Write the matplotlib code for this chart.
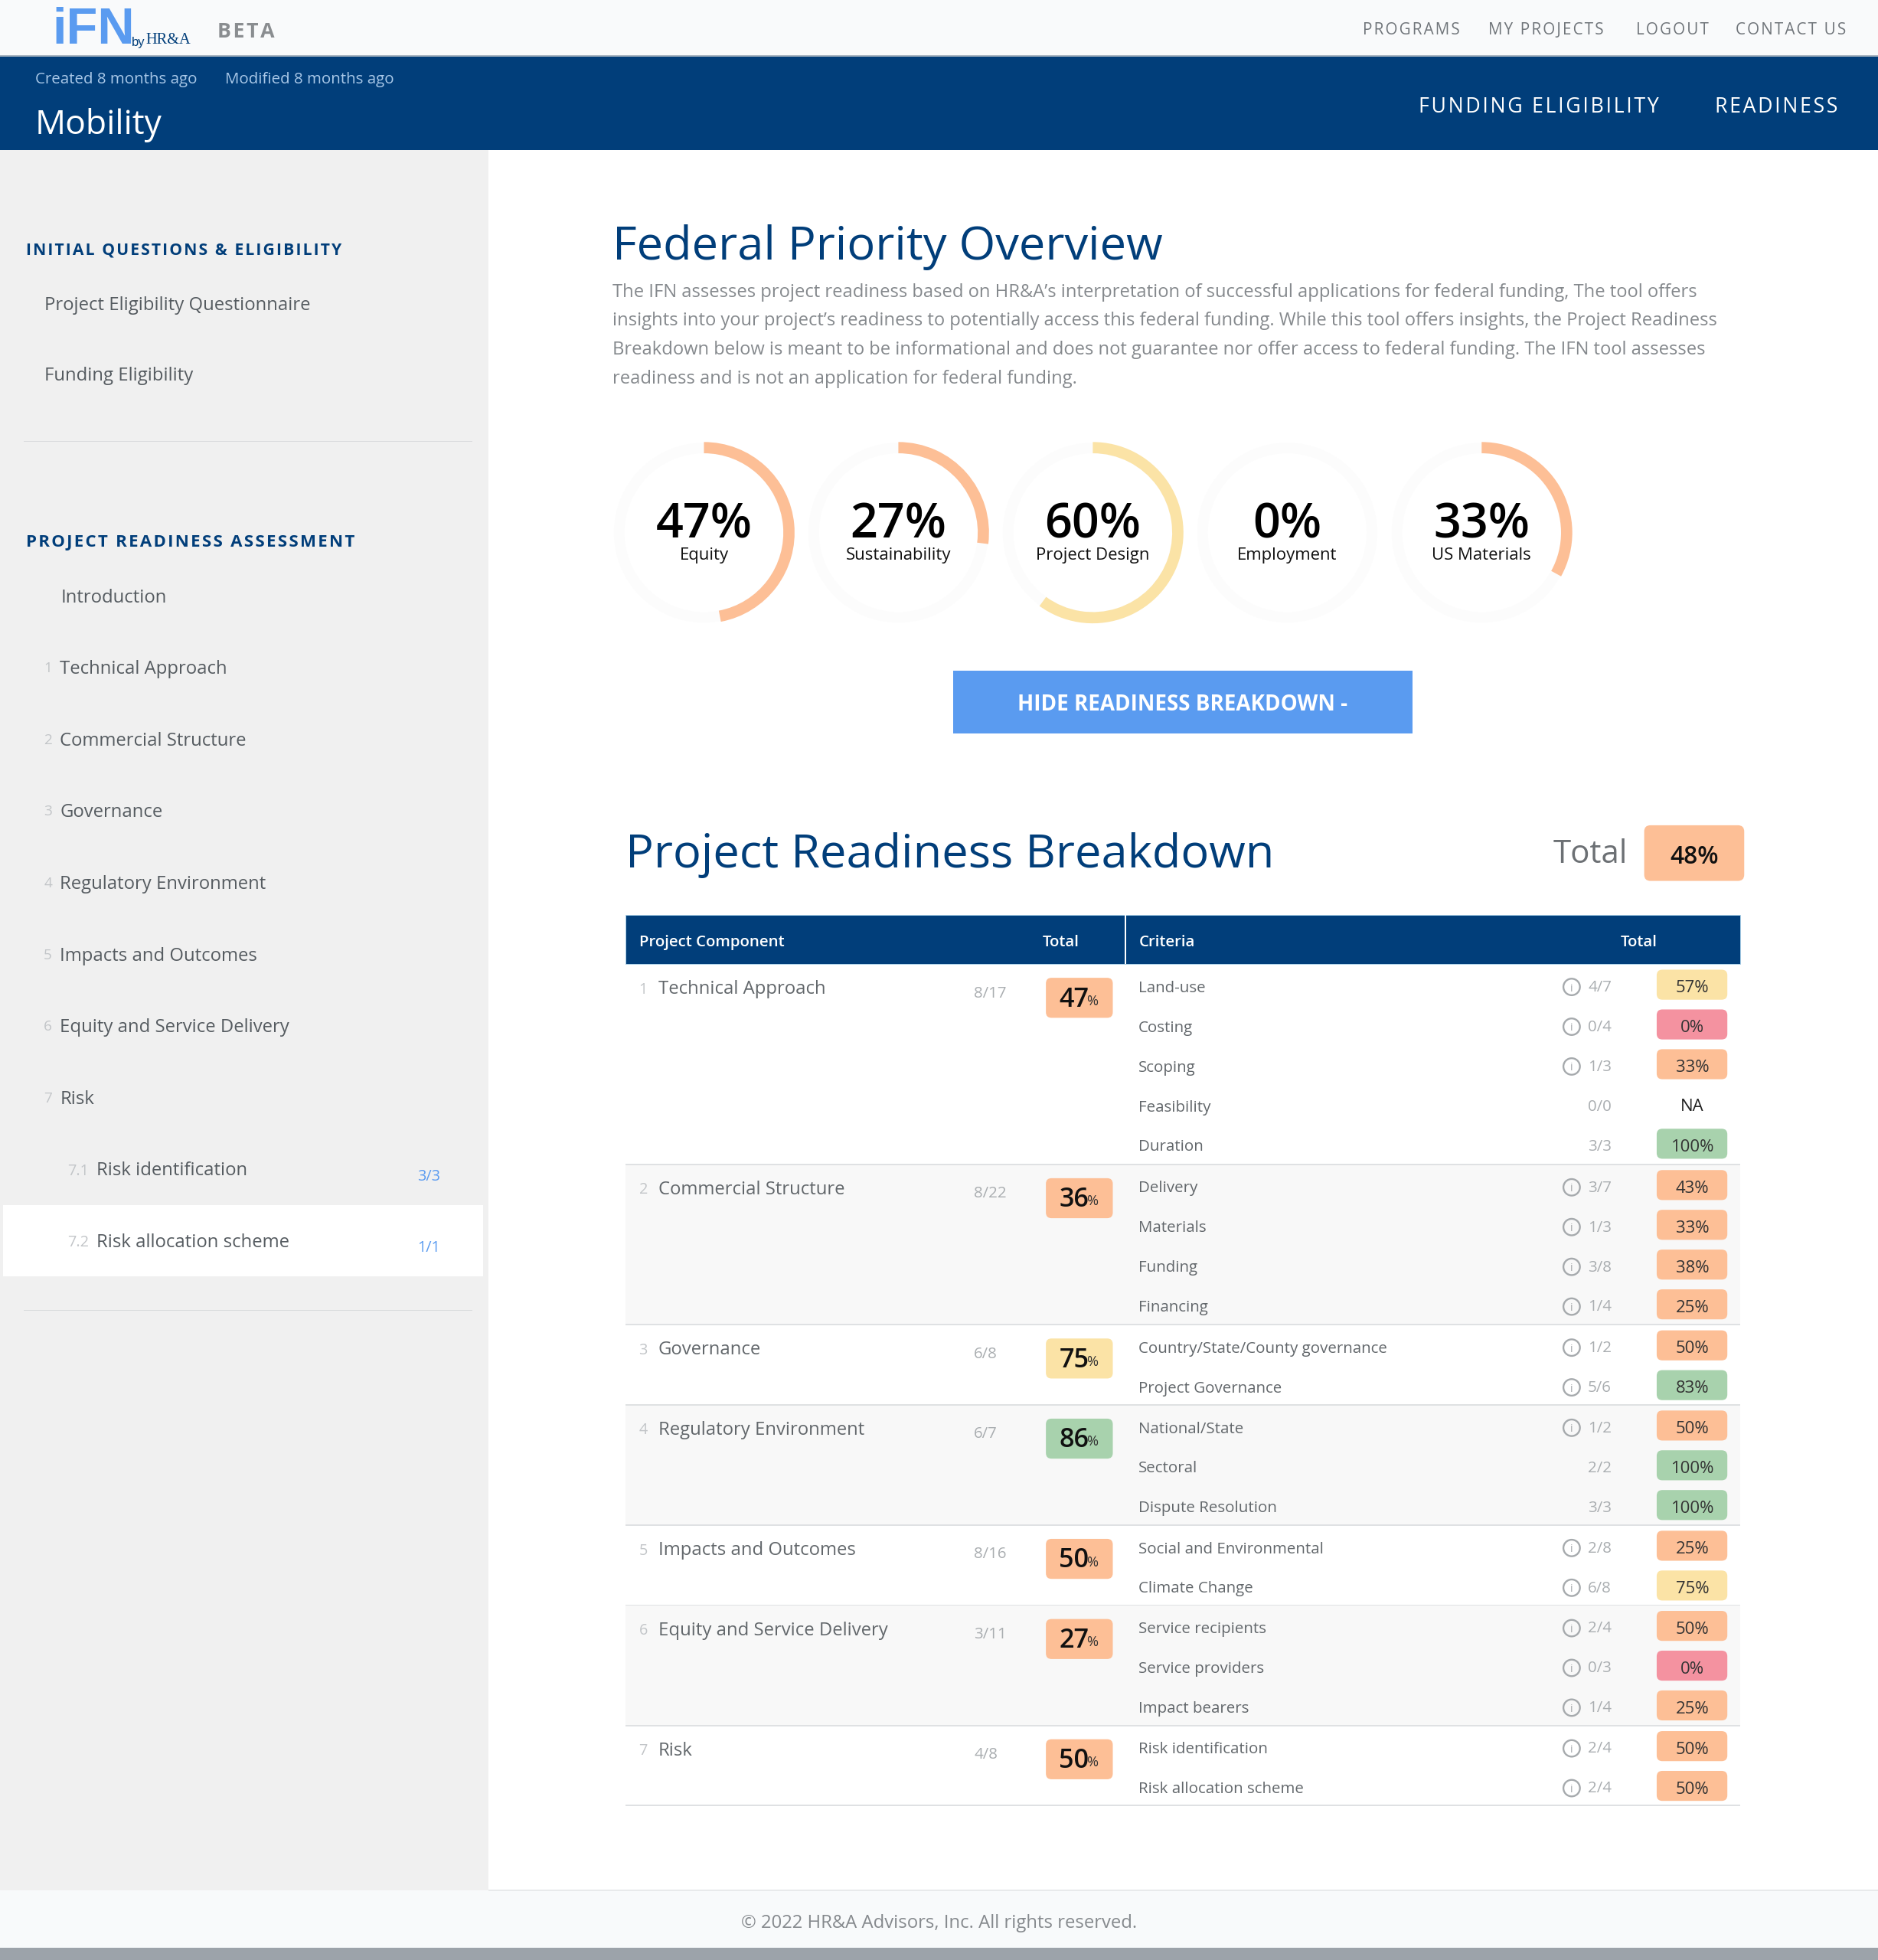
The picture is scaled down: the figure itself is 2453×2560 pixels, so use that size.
import matplotlib
matplotlib.use("Agg")
import matplotlib.pyplot as plt
from matplotlib.patches import Rectangle, Wedge, Circle, FancyBboxPatch

# ---- data ----
nav_links = ["PROGRAMS", "MY PROJECTS", "LOGOUT", "CONTACT US"]
nav_x = [1167.5, 1282.5, 1366.5, 1476.5]
tabs = ["FUNDING ELIGIBILITY", "READINESS"]
tabs_x = [1327, 1470]
gauge_labels = ["Equity", "Sustainability", "Project Design", "Employment", "US Materials"]
gauge_values = [47, 27, 60, 0, 33]
side_top = ["Project Eligibility Questionnaire", "Funding Eligibility"]
side_items = ["Technical Approach", "Commercial Structure", "Governance", "Regulatory Environment",
              "Impacts and Outcomes", "Equity and Service Delivery", "Risk"]
components = ["Technical Approach", "Commercial Structure", "Governance", "Regulatory Environment",
              "Impacts and Outcomes", "Equity and Service Delivery", "Risk"]
comp_scores = ["8/17", "8/22", "6/8", "6/7", "8/16", "3/11", "4/8"]
comp_pct = [47, 36, 75, 86, 50, 27, 50]
criteria = [["Land-use", "Costing", "Scoping", "Feasibility", "Duration"],
            ["Delivery", "Materials", "Funding", "Financing"],
            ["Country/State/County governance", "Project Governance"],
            ["National/State", "Sectoral", "Dispute Resolution"],
            ["Social and Environmental", "Climate Change"],
            ["Service recipients", "Service providers", "Impact bearers"],
            ["Risk identification", "Risk allocation scheme"]]
crit_scores = [["4/7", "0/4", "1/3", "0/0", "3/3"],
               ["3/7", "1/3", "3/8", "1/4"],
               ["1/2", "5/6"],
               ["1/2", "2/2", "3/3"],
               ["2/8", "6/8"],
               ["2/4", "0/3", "1/4"],
               ["2/4", "2/4"]]
crit_pct = [[57, 0, 33, None, 100],
            [43, 33, 38, 25],
            [50, 83],
            [50, 100, 100],
            [25, 75],
            [50, 0, 25],
            [50, 50]]
crit_info = [[1, 1, 1, 0, 0],
             [1, 1, 1, 1],
             [1, 1],
             [1, 0, 0],
             [1, 1],
             [1, 1, 1],
             [1, 1]]
total_pct = 48
intro = ["The IFN assesses project readiness based on HR&A\u2019s interpretation of successful applications for federal funding, The tool offers",
         "insights into your project\u2019s readiness to potentially access this federal funding. While this tool offers insights, the Project Readiness",
         "Breakdown below is meant to be informational and does not guarantee nor offer access to federal funding. The IFN tool assesses",
         "readiness and is not an application for federal funding."]

# ---- style ----
NAVY = "#013e7a"
ORANGE = "#fdbf96"
YELLOW = "#fbe3a6"
RED = "#f492a0"
GREEN = "#a8d2ad"
GREY = "#555b60"
LIGHT = "#a9adb0"
FONT = ["Open Sans", "DejaVu Sans"]
W, H = 1502, 1567.5
K = 2453 / 1502 * 0.72 * 0.973   # css px in this layout -> pt


def band(p):
    if p >= 80:
        return GREEN
    if p >= 55:
        return YELLOW
    if p > 0:
        return ORANGE
    return RED


def track(s):
    """Letter-spacing by hair spaces."""
    return "\u200a".join(s)


fig = plt.figure(figsize=(24.53, 25.60), dpi=100, facecolor="white")
ax = fig.add_axes([0, 0, 1, 1])
ax.set_xlim(0, W)
ax.set_ylim(H, 0)
ax.axis("off")


def T(x, y, s, size, color=GREY, ha="left", weight="normal", family=None, **kw):
    return ax.text(x, y - 1, s, fontsize=size * K, color=color, ha=ha, va="center_baseline",
                   fontweight=weight, family=family or FONT, zorder=kw.pop("zorder", 5), **kw)


def R(x, y, w, h, color, z=1, **kw):
    ax.add_patch(Rectangle((x, y), w, h, facecolor=color, edgecolor="none", zorder=z, **kw))


def badge(x, y, w, h, color, r=4.5):
    ax.add_patch(FancyBboxPatch((x + r, y + r), w - 2 * r, h - 2 * r, boxstyle=f"round,pad={r},rounding_size={r}",
                                facecolor=color, edgecolor="none", zorder=2))


# page frame
R(0, 0, W, 45, "#f9fafb")
R(0, 44, W, 1.2, "#a9b5c1", z=2)
R(0, 45, W, 75, NAVY)
R(0, 120, 390.5, 1392, "#f0f0f0")
R(0, 1512, W, 46.5, "#f8fafb")
R(390.5, 1511, W, 1.2, "#e8eaeb", z=2)
R(0, 1558, W, 9.5, "#9ca3aa", z=2)

# header
T(42, 21, "iFN", 42, "#5a9bf0", weight="bold", family=["Liberation Sans"])
T(105, 34, "by", 10.5, NAVY, family=["Liberation Sans"])
T(116.5, 31.5, "HR&A", 12.8, NAVY, family=["Liberation Serif"])
T(174, 25, track("BETA"), 16.8, "#8a8d90", weight="bold")
for s, x in zip(nav_links, nav_x):
    T(x, 23.5, track(s), 13.0, "#70757a", ha="right")
T(28, 63, "Created 8 months ago", 12.9, "#a9c8e8")
T(180, 63, "Modified 8 months ago", 12.9, "#a9c8e8")
T(28, 97.5, "Mobility", 28, "white")
for s, x in zip(tabs, tabs_x):
    T(x, 84.5, track(s), 16.8, "white", ha="right")

# sidebar
T(21, 199.5, track("INITIAL QUESTIONS & ELIGIBILITY"), 13.3, NAVY, weight="bold")
for i, s in enumerate(side_top):
    T(35.5, 243.5 + i * 56.5, s, 15, GREY)
R(19, 352.5, 359, 1, "#d9dbdd", z=2)
T(21, 433.5, track("PROJECT READINESS ASSESSMENT"), 14, NAVY, weight="bold")
T(49, 477.5, "Introduction", 15, GREY)
for i, s in enumerate(side_items):
    y = 534.5 + i * 57.3
    T(35, y, str(i + 1), 12, "#c2c5c8")
    T(48, y, s, 15, GREY)
R(2.5, 964, 384, 57, "white", z=2)
T(54, 936, "7.1", 12.5, "#c2c5c8")
T(77, 935.5, "Risk identification", 15, GREY)
T(334, 940.5, "3/3", 12.5, "#5a9bf0")
T(54, 993, "7.2", 12.5, "#c2c5c8")
T(77, 993, "Risk allocation scheme", 15, GREY)
T(334, 997.5, "1/1", 12.5, "#5a9bf0")
R(19, 1047.5, 359, 1, "#d9dbdd", z=2)

# intro
T(490, 194.5, "Federal Priority Overview", 38.6, NAVY)
for i, s in enumerate(intro):
    T(490, 233 + i * 23, s, 14.97, "#85898d")

# gauges
GX0, GDX, GY, GR, GW = 563, 155.5, 426, 72.5, 9
for i, (lab, v) in enumerate(zip(gauge_labels, gauge_values)):
    cx = GX0 + i * GDX
    ax.add_patch(Wedge((cx, GY), GR - 0.5, 0, 360, width=GW - 0.5, facecolor="#fcfcfc", edgecolor="none", zorder=2))
    if v > 0:
        # the y axis is inverted, so a clockwise arc from the top runs through increasing data angles
        ax.add_patch(Wedge((cx, GY), GR, -90, -90 + 3.6 * v, width=GW, facecolor=band(v), edgecolor="none", zorder=3))
    T(cx, 416.5, f"{v}%", 39.5, "black", ha="center", weight="semibold")
    T(cx, 444, lab, 13.9, "#111111", ha="center")

# button
R(762.5, 536.5, 367, 50, "#5a9bf0", z=2)
T(946, 562.5, "HIDE READINESS BREAKDOWN -", 17.5, "white", ha="center", weight="bold")

# breakdown heading
T(500.5, 680.5, "Project Readiness Breakdown", 38.65, NAVY)
T(1302, 681, "Total", 26.5, "#6c7074", ha="right")
badge(1315, 660, 80, 44.5, ORANGE, r=5)
T(1355, 684, f"{total_pct}%", 20, "#111111", ha="center", weight="semibold")

# table
TL, TR = 500.5, 1392
ax.add_patch(Rectangle((TL, 731.5), TR - TL, 39.2, facecolor=NAVY, edgecolor="#a9cfe8", linewidth=0.7, zorder=2))
R(899.2, 731, 1.8, 40, "white", z=3)
for x, s in [(511, "Project Component"), (834, "Total"), (911, "Criteria"), (1296, "Total")]:
    T(x, 753, s, 12.8, "white", weight="semibold")

SECTION_ROW, PITCH, PAD = 32.05, 31.8, 18.3
top = 771
for c, comp in enumerate(components):
    n = len(criteria[c])
    h = n * SECTION_ROW
    if c % 2 == 1:
        R(TL, top, TR - TL, h, "#f8f8f8", z=1)
    R(TL, top + h - 0.6, TR - TL, 1.1, "#dfe1e3", z=2)
    T(511, top + 20, str(c + 1), 12.5, "#c2c5c8")
    T(526.5, top + 19.5, comp, 15.05, "#62676b")
    T(779, top + 23, comp_scores[c], 12.9, "#a9adb0")
    badge(836.5, top + 11, 53.5, 32, band(comp_pct[c]))
    T(847, top + 27, f"{comp_pct[c]}", 21.5, "#111111", weight="semibold")
    T(869, top + 29.5, "%", 11.5, "#333333")
    for j, name in enumerate(criteria[c]):
        y = top + PAD + j * PITCH
        T(910.5, y + 0.5, name, 12.87, "#62676b")
        if crit_info[c][j]:
            ax.add_patch(Circle((1257, y), 6.6, facecolor="none", edgecolor="#a6aaad", linewidth=1.7, zorder=3))
            T(1257, y + 1, "i", 9, "#a6aaad", ha="center")
        T(1270, y, crit_scores[c][j], 12.9, "#a9adb0")
        p = crit_pct[c][j]
        if p is None:
            T(1353.5, y, "NA", 13.9, "#222222", ha="center")
        else:
            badge(1325, y - 13.8, 56.5, 24, band(p))
            T(1353.5, y + 0.5, f"{p}%", 13.9, "#333333", ha="center")
    top += h

# footer
T(751, 1537, "\u00a9 2022 HR&A Advisors, Inc. All rights reserved.", 15, "#85898d", ha="center")

fig.savefig("out.png", dpi=100, facecolor="white")
